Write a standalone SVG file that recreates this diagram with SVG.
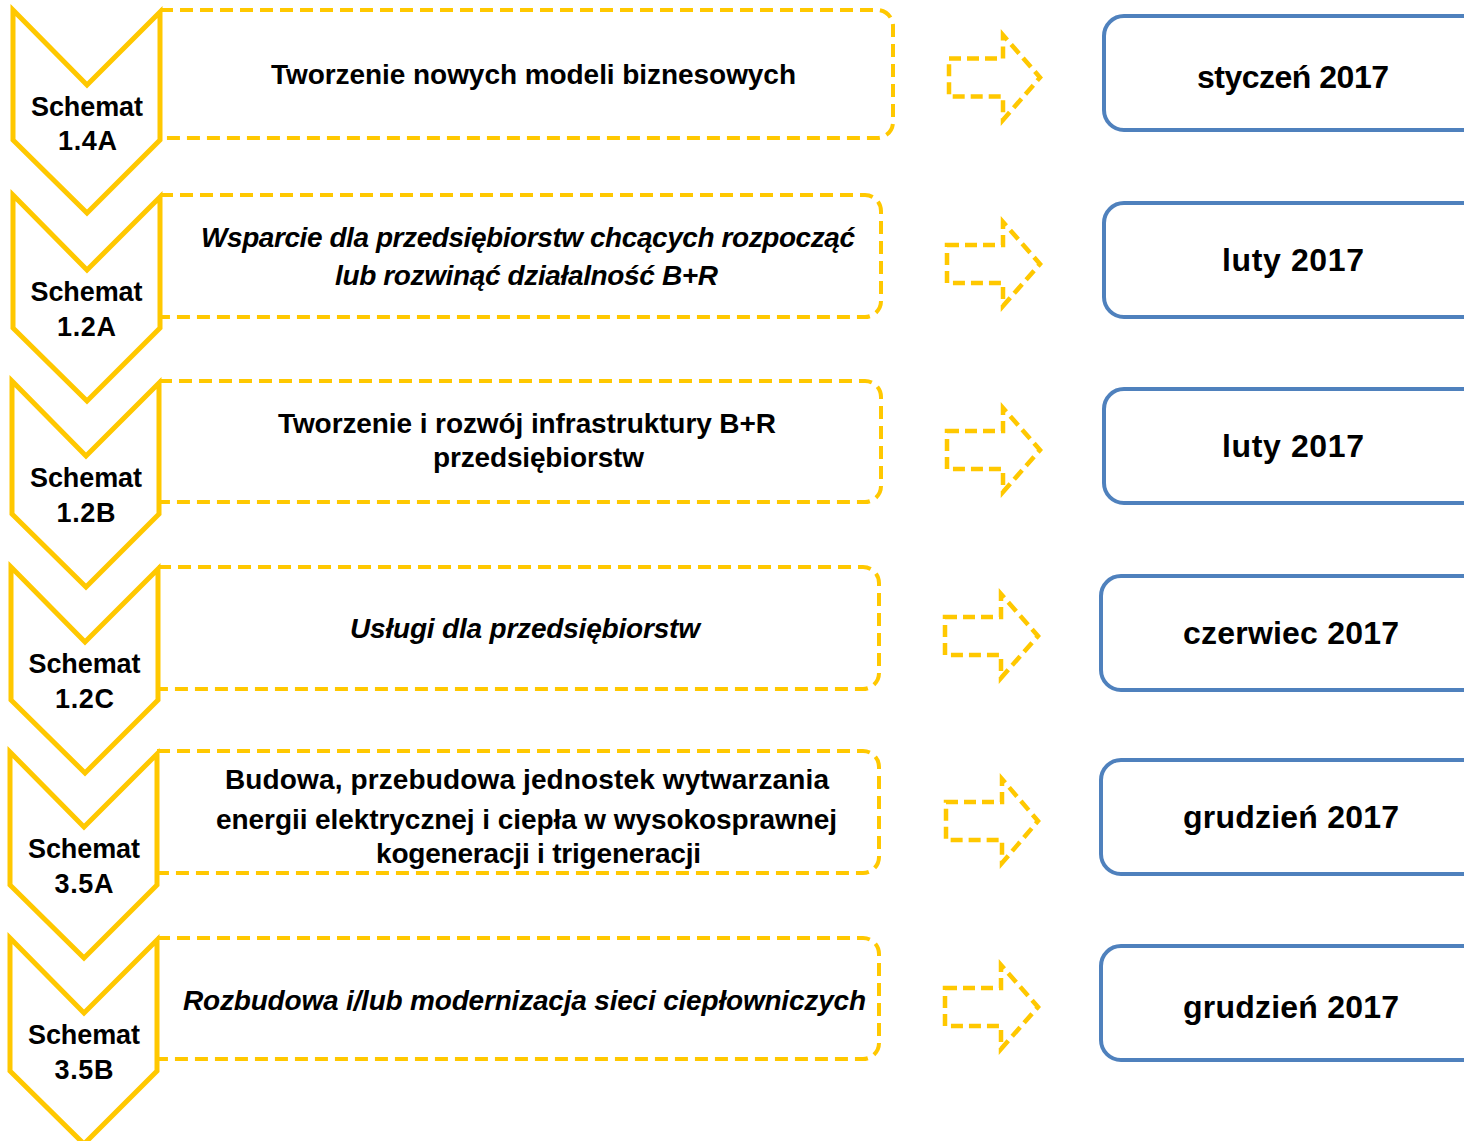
<svg xmlns="http://www.w3.org/2000/svg" width="1464" height="1141" viewBox="0 0 1464 1141">
<style>
.chev{fill:#fff;stroke:#FFC800;stroke-width:5;stroke-linejoin:miter}
.dbox{fill:none;stroke:#FFC800;stroke-width:4;stroke-dasharray:13 7}
.arr{fill:none;stroke:#FFC800;stroke-width:4.5;stroke-dasharray:12 6}
.bbox{fill:#fff;stroke:#4F81BD;stroke-width:4}
text{font-family:"Liberation Sans",Arial,sans-serif;font-weight:bold;fill:#000;text-anchor:middle}
.ct{font-size:27px}
.bt{font-size:28px}
.it{font-style:italic}
.dt{font-size:32px}
</style>
<rect width="1464" height="1141" fill="#fff"/>
<g id="connectors">
<path class="arr" d="M949,58.5 H1003 V35 L1040,77.5 L1003,120 V96.5 H949 Z"/>
<path class="arr" d="M947,245 H1003 V222 L1040,264 L1003,306 V283 H947 Z"/>
<path class="arr" d="M947,431 H1003 V408 L1040,450 L1003,492 V469 H947 Z"/>
<path class="arr" d="M945,617 H1001 V594 L1038,636 L1001,678 V655 H945 Z"/>
<path class="arr" d="M946,802 H1002 V779 L1038,821 L1002,863 V840 H946 Z"/>
<path class="arr" d="M945,988 H1001 V965 L1038,1007 L1001,1049 V1026 H945 Z"/>
</g>
<g id="row1">
<path class="dbox" d="M160,10 H877 A16,16 0 0 1 893,26 V122 A16,16 0 0 1 877,138 H162"/>
<path class="chev" d="M13,10 L87,85 L160,12 V140 L87,213 L13,140 Z"/>
<text class="ct" x="87" y="116" textLength="112">Schemat</text>
<text class="ct" x="87.5" y="150" textLength="59">1.4A</text>
<text class="bt" x="533.5" y="84" textLength="525">Tworzenie nowych modeli biznesowych</text>
</g>
<g id="row2">
<path class="dbox" d="M160,195 H865 A16,16 0 0 1 881,211 V301 A16,16 0 0 1 865,317 H162"/>
<path class="chev" d="M13,195 L87,270 L160,197 V328 L87,401 L13,328 Z"/>
<text class="ct" x="86.5" y="301" textLength="112">Schemat</text>
<text class="ct" x="86.5" y="336" textLength="59">1.2A</text>
<text class="bt it" x="528" y="247" textLength="654">Wsparcie dla przedsiębiorstw chcących rozpocząć</text>
<text class="bt it" x="526.5" y="285" textLength="383">lub rozwinąć działalność B+R</text>
</g>
<g id="row3">
<path class="dbox" d="M159,381 H865 A16,16 0 0 1 881,397 V486 A16,16 0 0 1 865,502 H161"/>
<path class="chev" d="M12,381 L86,456 L159,383 V514 L86,587 L12,514 Z"/>
<text class="ct" x="86" y="487" textLength="112">Schemat</text>
<text class="ct" x="86" y="522" textLength="59">1.2B</text>
<text class="bt" x="527" y="433" textLength="498">Tworzenie i rozwój infrastruktury B+R</text>
<text class="bt" x="538.5" y="467" textLength="211">przedsiębiorstw</text>
</g>
<g id="row4">
<path class="dbox" d="M158,567 H863 A16,16 0 0 1 879,583 V673 A16,16 0 0 1 863,689 H160"/>
<path class="chev" d="M11,567 L85,642 L158,569 V700 L85,773 L11,700 Z"/>
<text class="ct" x="84.5" y="673" textLength="112">Schemat</text>
<text class="ct" x="84.5" y="708" textLength="59">1.2C</text>
<text class="bt it" x="525" y="638" textLength="350">Usługi dla przedsiębiorstw</text>
</g>
<g id="row5">
<path class="dbox" d="M157,751 H863 A16,16 0 0 1 879,767 V857 A16,16 0 0 1 863,873 H159"/>
<path class="chev" d="M10,752 L84,827 L157,754 V885 L84,958 L10,885 Z"/>
<text class="ct" x="84" y="858" textLength="112">Schemat</text>
<text class="ct" x="84" y="893" textLength="59">3.5A</text>
<text class="bt" x="527" y="789" textLength="604">Budowa, przebudowa jednostek wytwarzania</text>
<text class="bt" x="526.5" y="829" textLength="621">energii elektrycznej i ciepła w wysokosprawnej</text>
<text class="bt" x="538.5" y="863" textLength="325">kogeneracji i trigeneracji</text>
</g>
<g id="row6">
<path class="dbox" d="M157,938 H863 A16,16 0 0 1 879,954 V1043 A16,16 0 0 1 863,1059 H159"/>
<path class="chev" d="M10,938 L84,1013 L157,940 V1071 L84,1144 L10,1071 Z"/>
<text class="ct" x="84" y="1044" textLength="112">Schemat</text>
<text class="ct" x="84" y="1079" textLength="59">3.5B</text>
<text class="bt it" x="524.5" y="1010" textLength="683">Rozbudowa i/lub modernizacja sieci ciepłowniczych</text>
</g>
<g id="date1"><rect class="bbox" x="1104" y="16" width="400" height="114" rx="20"/><text class="dt" x="1293" y="88" textLength="192">styczeń 2017</text></g>
<g id="date2"><rect class="bbox" x="1104" y="203" width="400" height="114" rx="20"/><text class="dt" x="1293" y="271" textLength="142">luty 2017</text></g>
<g id="date3"><rect class="bbox" x="1104" y="389" width="400" height="114" rx="20"/><text class="dt" x="1293" y="457" textLength="142">luty 2017</text></g>
<g id="date4"><rect class="bbox" x="1101" y="576" width="400" height="114" rx="20"/><text class="dt" x="1291" y="644" textLength="216">czerwiec 2017</text></g>
<g id="date5"><rect class="bbox" x="1101" y="760" width="400" height="114" rx="20"/><text class="dt" x="1291" y="828" textLength="216">grudzień 2017</text></g>
<g id="date6"><rect class="bbox" x="1101" y="946" width="400" height="114" rx="20"/><text class="dt" x="1291" y="1018" textLength="216">grudzień 2017</text></g>
</svg>
